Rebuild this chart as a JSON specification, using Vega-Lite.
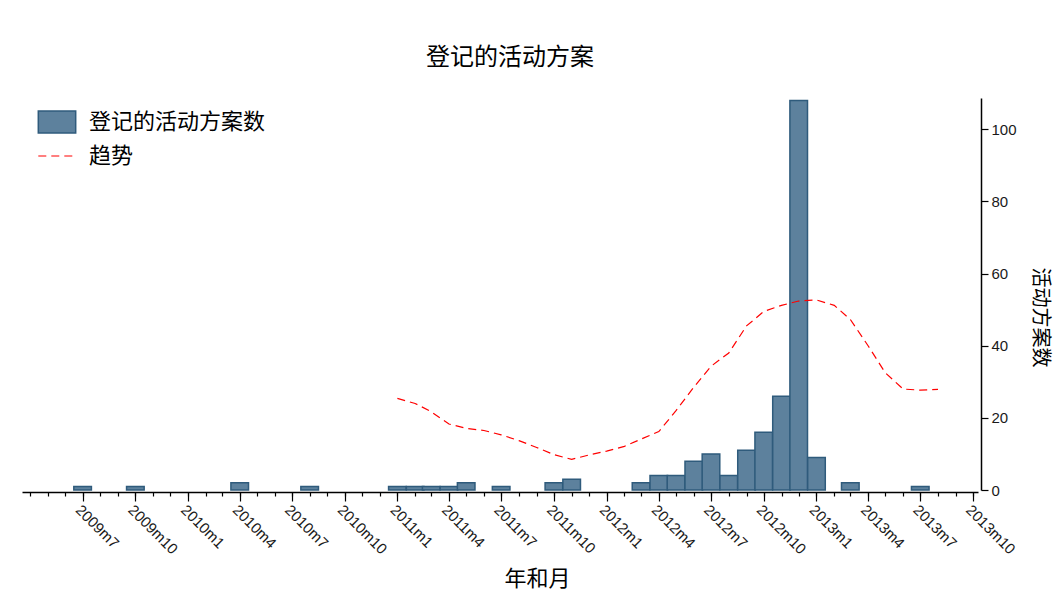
{
  "$schema": "https://vega.github.io/schema/vega-lite/v6.json",
  "width": 956,
  "height": 392,
  "autosize": {"type": "none"},
  "padding": {"left": 22, "top": 98, "right": 80, "bottom": 107},
  "background": "white",
  "config": {"view": {"stroke": null}, "font": "Liberation Sans"},
  "title": {
    "text": "登记的活动方案",
    "font": "Noto Sans CJK SC",
    "fontSize": 24,
    "fontWeight": "normal",
    "color": "#000000",
    "offset": 28,
    "dx": 10
  },
  "datasets": {
    "counts": [
      {"month": "2009-07-01", "count": 1},
      {"month": "2009-10-01", "count": 1},
      {"month": "2010-04-01", "count": 2},
      {"month": "2010-08-01", "count": 1},
      {"month": "2011-01-01", "count": 1},
      {"month": "2011-02-01", "count": 1},
      {"month": "2011-03-01", "count": 1},
      {"month": "2011-04-01", "count": 1},
      {"month": "2011-05-01", "count": 2},
      {"month": "2011-07-01", "count": 1},
      {"month": "2011-10-01", "count": 2},
      {"month": "2011-11-01", "count": 3},
      {"month": "2012-03-01", "count": 2},
      {"month": "2012-04-01", "count": 4},
      {"month": "2012-05-01", "count": 4},
      {"month": "2012-06-01", "count": 8},
      {"month": "2012-07-01", "count": 10},
      {"month": "2012-08-01", "count": 4},
      {"month": "2012-09-01", "count": 11},
      {"month": "2012-10-01", "count": 16},
      {"month": "2012-11-01", "count": 26},
      {"month": "2012-12-01", "count": 108},
      {"month": "2013-01-01", "count": 9},
      {"month": "2013-03-01", "count": 2},
      {"month": "2013-07-01", "count": 1}
    ],
    "trend": [
      {"month": "2011-01-01", "trend": 25.4},
      {"month": "2011-02-01", "trend": 24.0},
      {"month": "2011-03-01", "trend": 21.7},
      {"month": "2011-04-01", "trend": 18.3},
      {"month": "2011-05-01", "trend": 17.1},
      {"month": "2011-06-01", "trend": 16.5},
      {"month": "2011-07-01", "trend": 15.3},
      {"month": "2011-08-01", "trend": 13.7},
      {"month": "2011-09-01", "trend": 11.8},
      {"month": "2011-10-01", "trend": 9.8},
      {"month": "2011-11-01", "trend": 8.5},
      {"month": "2011-12-01", "trend": 9.7},
      {"month": "2012-01-01", "trend": 10.8},
      {"month": "2012-02-01", "trend": 12.1},
      {"month": "2012-03-01", "trend": 14.1},
      {"month": "2012-04-01", "trend": 16.2},
      {"month": "2012-05-01", "trend": 22.0},
      {"month": "2012-06-01", "trend": 28.5},
      {"month": "2012-07-01", "trend": 34.3},
      {"month": "2012-08-01", "trend": 38.0},
      {"month": "2012-09-01", "trend": 45.5},
      {"month": "2012-10-01", "trend": 49.5},
      {"month": "2012-11-01", "trend": 51.2},
      {"month": "2012-12-01", "trend": 52.4},
      {"month": "2013-01-01", "trend": 52.7},
      {"month": "2013-02-01", "trend": 51.2},
      {"month": "2013-03-01", "trend": 47.3},
      {"month": "2013-04-01", "trend": 40.0},
      {"month": "2013-05-01", "trend": 32.5},
      {"month": "2013-06-01", "trend": 28.0},
      {"month": "2013-07-01", "trend": 27.7},
      {"month": "2013-08-01", "trend": 27.9}
    ]
  },
  "layer": [
    {
      "data": {"name": "counts"},
      "mark": {"type": "bar", "width": 17.6, "stroke": "#2f5b7c", "strokeWidth": 1.5},
      "encoding": {
        "x": {
          "field": "month",
          "type": "temporal",
          "scale": {
            "type": "utc",
            "nice": false,
            "domain": [
              {"year": 2009, "month": 3, "date": 26, "utc": true},
              {"year": 2013, "month": 10, "date": 1, "utc": true}
            ]
          },
          "axis": {
            "orient": "bottom",
            "offset": 2,
            "values": [
              {"year": 2009, "month": 7, "date": 1, "utc": true},
              {"year": 2009, "month": 10, "date": 1, "utc": true},
              {"year": 2010, "month": 1, "date": 1, "utc": true},
              {"year": 2010, "month": 4, "date": 1, "utc": true},
              {"year": 2010, "month": 7, "date": 1, "utc": true},
              {"year": 2010, "month": 10, "date": 1, "utc": true},
              {"year": 2011, "month": 1, "date": 1, "utc": true},
              {"year": 2011, "month": 4, "date": 1, "utc": true},
              {"year": 2011, "month": 7, "date": 1, "utc": true},
              {"year": 2011, "month": 10, "date": 1, "utc": true},
              {"year": 2012, "month": 1, "date": 1, "utc": true},
              {"year": 2012, "month": 4, "date": 1, "utc": true},
              {"year": 2012, "month": 7, "date": 1, "utc": true},
              {"year": 2012, "month": 10, "date": 1, "utc": true},
              {"year": 2013, "month": 1, "date": 1, "utc": true},
              {"year": 2013, "month": 4, "date": 1, "utc": true},
              {"year": 2013, "month": 7, "date": 1, "utc": true},
              {"year": 2013, "month": 10, "date": 1, "utc": true}
            ],
            "tickSize": 9,
            "tickWidth": 1.2,
            "tickColor": "#000000",
            "domainColor": "#000000",
            "domainWidth": 1.5,
            "labelAngle": 45,
            "labelAlign": "left",
            "labelBaseline": "top",
            "labelPadding": 1,
            "labelFont": "Liberation Sans",
            "labelFontSize": 15,
            "labelColor": "#1a1a1a",
            "labelExpr": "utcyear(datum.value) + 'm' + (utcmonth(datum.value) + 1)",
            "labelOverlap": false,
            "labelFlush": false,
            "labelBound": false,
            "grid": false,
            "title": "年和月",
            "titleFont": "Noto Sans CJK SC",
            "titleFontSize": 22,
            "titleFontWeight": "normal",
            "titleColor": "#000000",
            "titleX": 515,
            "titleY": 86,
            "titleAlign": "center",
            "titleBaseline": "middle"
          }
        },
        "y": {
          "field": "count",
          "type": "quantitative",
          "scale": {"domain": [0, 108.7], "nice": false},
          "axis": {
            "orient": "right",
            "offset": 3,
            "values": [0, 20, 40, 60, 80, 100],
            "tickSize": 7,
            "tickWidth": 1.2,
            "tickColor": "#000000",
            "domainColor": "#000000",
            "domainWidth": 1.5,
            "labelFont": "Liberation Sans",
            "labelFontSize": 15,
            "labelColor": "#1a1a1a",
            "labelPadding": 3,
            "grid": false,
            "title": "活动方案数",
            "titleFont": "Noto Sans CJK SC",
            "titleFontSize": 20,
            "titleFontWeight": "normal",
            "titleColor": "#000000",
            "titleAngle": 90,
            "titleX": 58,
            "titleY": 219,
            "titleAlign": "center",
            "titleBaseline": "middle"
          }
        },
        "fill": {
          "datum": "登记的活动方案数",
          "scale": {"range": ["#5d819d"]},
          "legend": {
            "title": null,
            "orient": "none",
            "legendX": 23,
            "legendY": 12,
            "symbolType": "M-1.7,-1L1.7,-1L1.7,1L-1.7,1Z",
            "symbolSize": 484,
            "symbolStrokeColor": "#2f5b7c",
            "symbolStrokeWidth": 1.5,
            "symbolOpacity": 1,
            "labelFont": "Noto Sans CJK SC",
            "labelFontSize": 22,
            "labelColor": "#000000",
            "labelOffset": 20,
            "labelLimit": 400
          }
        }
      }
    },
    {
      "data": {"name": "trend"},
      "mark": {"type": "line", "strokeWidth": 1.2, "strokeDash": [8, 5]},
      "encoding": {
        "x": {
          "field": "month",
          "type": "temporal",
          "scale": {
            "type": "utc",
            "nice": false,
            "domain": [
              {"year": 2009, "month": 3, "date": 26, "utc": true},
              {"year": 2013, "month": 10, "date": 1, "utc": true}
            ]
          },
          "axis": {
            "orient": "bottom",
            "offset": 2,
            "tickCount": {"interval": "month", "step": 1},
            "tickSize": 4,
            "tickWidth": 1.2,
            "tickColor": "#000000",
            "labels": false,
            "domain": false,
            "grid": false,
            "title": null
          }
        },
        "y": {"field": "trend", "type": "quantitative"},
        "stroke": {
          "datum": "趋势",
          "scale": {"range": ["#ff0000"]},
          "legend": {
            "title": null,
            "orient": "none",
            "legendX": 23,
            "legendY": 46,
            "symbolType": "M-1.7,0L1.7,0",
            "symbolSize": 484,
            "symbolStrokeWidth": 1.2,
            "symbolDash": [8, 5],
            "symbolFillColor": "transparent",
            "labelFont": "Noto Sans CJK SC",
            "labelFontSize": 22,
            "labelColor": "#000000",
            "labelOffset": 20,
            "labelLimit": 400
          }
        }
      }
    }
  ],
  "resolve": {"axis": {"x": "independent"}}
}
